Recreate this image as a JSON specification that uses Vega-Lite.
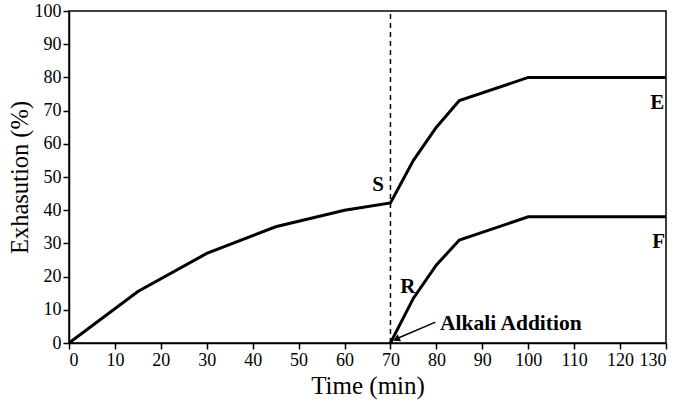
{
  "$schema": "https://vega.github.io/schema/vega-lite/v6.json",
  "autosize": "none",
  "width": 597,
  "height": 332,
  "padding": {"left": 69, "top": 11, "right": 19, "bottom": 65},
  "background": "white",
  "config": {
    "view": {"stroke": "black", "strokeWidth": 1.5},
    "axis": {
      "grid": false,
      "domainColor": "black",
      "domainWidth": 1.5,
      "tickColor": "black",
      "tickWidth": 1.5,
      "tickSize": 6,
      "labelFont": "Liberation Serif",
      "labelFontSize": 18,
      "labelColor": "black",
      "labelOverlap": false,
      "titleFont": "Liberation Serif",
      "titleFontWeight": "normal",
      "titleColor": "black"
    }
  },
  "datasets": {
    "curves": [
      {"series": "E", "t": 0, "y": 0},
      {"series": "E", "t": 15, "y": 15.5},
      {"series": "E", "t": 30, "y": 27},
      {"series": "E", "t": 45, "y": 35},
      {"series": "E", "t": 60, "y": 40},
      {"series": "E", "t": 70, "y": 42.2},
      {"series": "E", "t": 75, "y": 55},
      {"series": "E", "t": 80, "y": 65},
      {"series": "E", "t": 85, "y": 73},
      {"series": "E", "t": 100, "y": 80},
      {"series": "E", "t": 130, "y": 80},
      {"series": "F", "t": 70, "y": 0},
      {"series": "F", "t": 75, "y": 13.5},
      {"series": "F", "t": 80, "y": 23.5},
      {"series": "F", "t": 85, "y": 31},
      {"series": "F", "t": 100, "y": 38},
      {"series": "F", "t": 130, "y": 38}
    ],
    "labels": [
      {"label": "S", "t": 67.3, "y": 47.5},
      {"label": "E", "t": 128.1, "y": 72.4},
      {"label": "F", "t": 128.4, "y": 30.5},
      {"label": "R", "t": 73.8, "y": 17}
    ],
    "note": [
      {"label": "Alkali Addition", "t": 80.8, "y": 5.7}
    ],
    "vline": [
      {"t": 70, "y": 0, "y2": 100}
    ],
    "arrow": [
      {"t": 79.8, "y": 6.3, "t2": 71.2, "y2": 1.2}
    ],
    "head": [
      {"t": 71.5, "y": 1.3}
    ]
  },
  "encoding": {
    "x": {"field": "t", "type": "quantitative", "scale": {"domain": [0, 130], "nice": false},
          "axis": {"values": [0,10,20,30,40,50,60,70,80,90,100,110,120,130], "title": "Time (min)", "titlePadding": 4, "titleFontSize": 25}},
    "y": {"field": "y", "type": "quantitative", "scale": {"domain": [0, 100], "nice": false},
          "axis": {"values": [0,10,20,30,40,50,60,70,80,90,100], "title": "Exhasution (%)", "titlePadding": 2, "titleFontSize": 24.5}}
  },
  "layer": [
    {
      "data": {"name": "vline"},
      "mark": {"type": "rule", "color": "black", "strokeWidth": 1.5, "strokeDash": [5, 4]},
      "encoding": {
        "y2": {"field": "y2"}
      }
    },
    {
      "data": {"name": "curves"},
      "mark": {"type": "line", "color": "black", "strokeWidth": 3},
      "encoding": {
        "detail": {"field": "series"}
      }
    },
    {
      "data": {"name": "arrow"},
      "mark": {"type": "rule", "color": "black", "strokeWidth": 1.5},
      "encoding": {
        "x2": {"field": "t2"},
        "y2": {"field": "y2"}
      }
    },
    {
      "data": {"name": "head"},
      "mark": {"type": "point", "shape": "triangle", "filled": true, "color": "black", "size": 60, "angle": 244, "opacity": 1},
      "encoding": {}
    },
    {
      "data": {"name": "labels"},
      "mark": {"type": "text", "font": "Liberation Serif", "fontSize": 21, "fontWeight": "bold", "color": "black", "baseline": "middle", "align": "center"},
      "encoding": {
        "text": {"field": "label"}
      }
    },
    {
      "data": {"name": "note"},
      "mark": {"type": "text", "font": "Liberation Serif", "fontSize": 21.5, "fontWeight": "bold", "color": "black", "baseline": "middle", "align": "left"},
      "encoding": {
        "text": {"field": "label"}
      }
    }
  ]
}
